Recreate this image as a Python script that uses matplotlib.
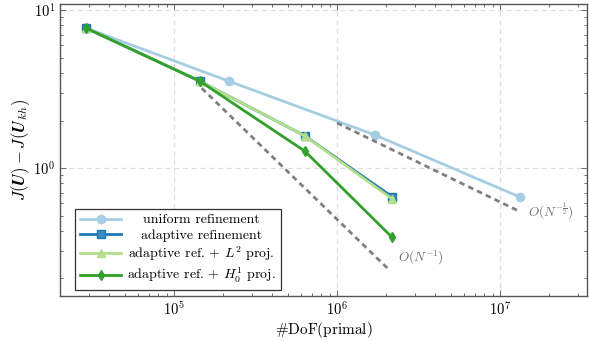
import numpy as np
import matplotlib
matplotlib.use("Agg")
import matplotlib.pyplot as plt
from matplotlib.ticker import LogLocator, NullFormatter

plt.rcParams['mathtext.fontset'] = 'cm'
plt.rcParams['font.family'] = 'serif'
plt.rcParams['font.serif'] = ['cmr10', 'DejaVu Serif']
plt.rcParams['axes.formatter.use_mathtext'] = True

# data
dof_uniform = [2.88e4, 2.17e5, 1.71e6, 1.33e7]
err_uniform = [7.7, 3.55, 1.62, 0.655]

dof_adaptive = [2.88e4, 1.44e5, 6.35e5, 2.17e6]
err_adaptive = [7.7, 3.55, 1.6, 0.66]
err_l2 = [7.7, 3.55, 1.6, 0.64]
err_h1 = [7.7, 3.55, 1.28, 0.366]

# reference slopes
ref1_x = [1.48e5, 2.11e6]
ref1_c = 4.74e5
refh_x = [1.0e6, 1.33e7]
refh_c = 1930.0

labels = ['uniform refinement', 'adaptive refinement',
          r'adaptive ref. $+$ $L^2$ proj.', r'adaptive ref. $+$ $H_0^1$ proj.']

fig = plt.figure(figsize=(5.89, 3.41), dpi=100)
ax = fig.add_axes([0.102, 0.132, 0.8946, 0.856])

lw = 2.0
ax.plot(dof_uniform, err_uniform, '-o', color='#a6cee3', lw=lw, ms=6, label=labels[0])
ax.plot(dof_adaptive, err_adaptive, '-s', color='#1f78b4', lw=lw, ms=6,
        markerfacecolor='#3a8cc4', label=labels[1])
ax.plot(dof_adaptive, err_l2, '-^', color='#b2df8a', lw=lw, ms=6, label=labels[2])
ax.plot(dof_adaptive, err_h1, '-d', color='#33a02c', lw=lw, ms=5, label=labels[3])

x1 = np.array(ref1_x)
ax.plot(x1, ref1_c / x1, '--', color='#808080', lw=2.0, dashes=(2, 1.5))
xh = np.array(refh_x)
ax.plot(xh, refh_c / np.sqrt(xh), '--', color='#808080', lw=2.0, dashes=(2, 1.5))
ax.text(x1[-1] * 1.12, ref1_c / x1[-1] * 1.05, r'$O(N^{-1})$', color='#707070',
        fontsize=9.5, va='bottom', ha='left')
ax.text(xh[-1] * 1.12, refh_c / np.sqrt(xh[-1]), r'$O(N^{-\frac{1}{2}})$', color='#707070',
        fontsize=9.5, va='center', ha='left')

ax.set_xscale('log')
ax.set_yscale('log')
ax.set_xlim(2.0e4, 3.42e7)
ax.set_ylim(0.155, 10 ** 1.038)

ax.xaxis.set_major_locator(LogLocator(base=10, numticks=10))
ax.yaxis.set_major_locator(LogLocator(base=10, numticks=10))
ax.xaxis.set_minor_locator(LogLocator(base=10, subs=np.arange(2, 10), numticks=20))
ax.yaxis.set_minor_locator(LogLocator(base=10, subs=np.arange(2, 10), numticks=20))
ax.xaxis.set_minor_formatter(NullFormatter())
ax.yaxis.set_minor_formatter(NullFormatter())

ax.tick_params(which='both', direction='in', top=True, right=True, colors='#555555',
               labelcolor='black', labelsize=10.5)
ax.tick_params(which='major', length=4, width=0.6)
ax.tick_params(which='minor', length=2.5, width=0.6)
for s in ax.spines.values():
    s.set_color('#555555')
    s.set_linewidth(1.0)

ax.grid(True, which='major', ls='--', color='#dddddd', lw=0.9, dashes=(4, 3))
ax.set_axisbelow(True)

ax.set_xlabel(r'$\#\mathrm{DoF(primal)}$', fontsize=11, labelpad=1)
ax.set_ylabel(r'$J(\boldsymbol{U})-J(\boldsymbol{U}_{kh})$', fontsize=12, labelpad=1)

leg = ax.legend(loc='lower left', bbox_to_anchor=(0.028, 0.02), fontsize=10,
                borderaxespad=0, fancybox=False, edgecolor='#333333', framealpha=1,
                handlelength=3, borderpad=0.35, labelspacing=0.2, handletextpad=0.4)
leg.get_frame().set_linewidth(0.9)

# centre the legend entries like pgfplots does
fig.canvas.draw()
r = fig.canvas.get_renderer()
widths = [t.get_window_extent(r).width for t in leg.get_texts()]
wmax = max(widths)
for t, w in zip(leg.get_texts(), widths):
    t.set_position(((wmax - w) / 2, 0))

fig.savefig('out.png', dpi=100)
